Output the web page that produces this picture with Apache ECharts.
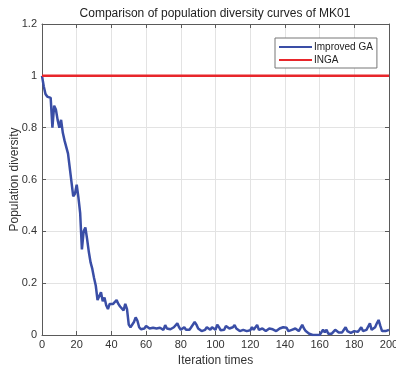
<!DOCTYPE html>
<html>
<head>
<meta charset="utf-8">
<script src="https://cdn.jsdelivr.net/npm/echarts@6/dist/echarts.min.js"></script>
<style>
  html, body { margin: 0; padding: 0; background: #fff; }
  #chart { width: 396px; height: 370px; }
</style>
</head>
<body>
<div id="chart"></div>
<script>
const titleText = 'Comparison of population diversity curves of MK01'
const seriesNames = ['Improved GA', 'INGA']
const xTicks = [0, 20, 40, 60, 80, 100, 120, 140, 160, 180, 200]
const yTicks = [0, 0.2, 0.4, 0.6, 0.8, 1, 1.2]

// population diversity per iteration (0..200)
const improvedGA = [
  1.0, 0.96, 0.93, 0.92, 0.915, 0.915, 0.80, 0.885, 0.87, 0.83,
  0.80, 0.83, 0.78, 0.75, 0.755, 0.70, 0.645, 0.64, 0.535, 0.545,
  0.58, 0.53, 0.47, 0.33, 0.40, 0.415, 0.37, 0.32, 0.28, 0.255,
  0.22, 0.19, 0.135, 0.14, 0.165, 0.13, 0.145, 0.115, 0.10, 0.12,
  0.115, 0.12, 0.125, 0.135, 0.12, 0.11, 0.105, 0.095, 0.12, 0.10,
  0.04, 0.03, 0.035, 0.05, 0.068, 0.055, 0.03, 0.022, 0.02, 0.025,
  0.035, 0.028, 0.025, 0.03, 0.028, 0.03, 0.025, 0.03, 0.028, 0.025,
  0.02, 0.038, 0.025, 0.018, 0.022, 0.02, 0.03, 0.025, 0.045, 0.03,
  0.02, 0.025, 0.03, 0.02, 0.015, 0.02, 0.03, 0.025, 0.05, 0.04,
  0.025, 0.02, 0.015, 0.013, 0.02, 0.03, 0.025, 0.02, 0.03, 0.035,
  0.02, 0.04, 0.03, 0.018, 0.025, 0.02, 0.035, 0.042, 0.025, 0.02,
  0.03, 0.038, 0.025, 0.02, 0.015, 0.01, 0.02, 0.025, 0.015, 0.02,
  0.018, 0.03, 0.02, 0.025, 0.039, 0.02, 0.018, 0.025, 0.02, 0.015,
  0.02, 0.025, 0.03, 0.022, 0.018, 0.015, 0.02, 0.025, 0.02, 0.03,
  0.033, 0.028, 0.015, 0.012, 0.02, 0.015, 0.025, 0.02, 0.015, 0.02,
  0.039, 0.025, 0.015, 0.01, 0.005, 0.0, 0.0, 0.0, 0.0, 0.0,
  0.0, 0.0, 0.02, 0.01, 0.02, 0.005, 0.0, 0.005, 0.01, 0.02,
  0.018, 0.01, 0.005, 0.01, 0.02, 0.03, 0.015, 0.01, 0.008, 0.01,
  0.015, 0.01, 0.012, 0.02, 0.03, 0.015, 0.01, 0.02, 0.015, 0.045,
  0.02, 0.015, 0.03, 0.045, 0.058, 0.035, 0.015, 0.01, 0.015, 0.02,
  0.02
]
const inga = improvedGA.map(function() { return 1 })

const chart = echarts.init(document.getElementById('chart'), null, { renderer: 'canvas' })

const font = 'Liberation Sans, Arial, Helvetica, sans-serif'
const boxColor = '#5a5a5a'
const textColor = '#333333'

chart.setOption({
  backgroundColor: '#ffffff',
  animation: false,
  title: {
    text: titleText,
    left: 210,
    textAlign: 'center',
    top: 3,
    textStyle: {
      fontFamily: font,
      fontSize: 12,
      fontWeight: 'normal',
      color: '#222222'
    }
  },
  legend: {
    orient: 'vertical',
    left: 275,
    top: 38,
    padding: [4, 4, 3, 4],
    itemGap: 3,
    itemWidth: 33,
    itemHeight: 2,
    icon: 'rect',
    backgroundColor: '#ffffff',
    borderColor: '#777777',
    borderWidth: 1,
    textStyle: {
      fontFamily: font,
      fontSize: 10,
      color: '#222222',
      padding: [0, 0, 0, -3]
    },
    data: seriesNames
  },
  grid: {
    left: 42,
    right: 7,
    top: 24,
    bottom: 35,
    outerBoundsMode: 'none'
  },
  xAxis: [{
    type: 'value',
    min: 0,
    max: 200,
    interval: 20,
    name: 'Iteration times',
    nameLocation: 'middle',
    nameGap: 20,
    nameMoveOverlap: false,
    nameTextStyle: { fontFamily: font, fontSize: 12, color: textColor },
    axisLine: { show: true, onZero: false, lineStyle: { color: boxColor, width: 1 } },
    axisTick: { show: true, inside: true, length: 4, lineStyle: { color: boxColor } },
    axisLabel: { fontFamily: font, fontSize: 11, color: textColor, margin: 4 },
    splitLine: { show: true, lineStyle: { color: '#e3e3e3', width: 1 } }
  }, {
    type: 'value',
    position: 'top',
    min: 0,
    max: 200,
    interval: 20,
    axisLine: { show: true, onZero: false, lineStyle: { color: boxColor, width: 1 } },
    axisTick: { show: true, inside: true, length: 4, lineStyle: { color: boxColor } },
    axisLabel: { show: false },
    splitLine: { show: false }
  }],
  yAxis: [{
    type: 'value',
    min: 0,
    max: 1.2,
    interval: 0.2,
    name: 'Population diversity',
    nameLocation: 'middle',
    nameGap: 21,
    nameMoveOverlap: false,
    nameTextStyle: { fontFamily: font, fontSize: 12, color: textColor },
    axisLine: { show: true, onZero: false, lineStyle: { color: boxColor, width: 1 } },
    axisTick: { show: true, inside: true, length: 4, lineStyle: { color: boxColor } },
    axisLabel: {
      fontFamily: font,
      fontSize: 11,
      color: textColor,
      margin: 5,
      formatter: function(v) { return String(Math.round(v * 10) / 10) }
    },
    splitLine: { show: true, lineStyle: { color: '#e3e3e3', width: 1 } }
  }, {
    type: 'value',
    position: 'right',
    min: 0,
    max: 1.2,
    interval: 0.2,
    axisLine: { show: true, onZero: false, lineStyle: { color: boxColor, width: 1 } },
    axisTick: { show: true, inside: true, length: 4, lineStyle: { color: boxColor } },
    axisLabel: { show: false },
    splitLine: { show: false }
  }],
  series: [{
    name: seriesNames[0],
    type: 'line',
    symbol: 'none',
    itemStyle: { color: '#3a4ea6' },
    lineStyle: { color: '#3a4ea6', width: 2.5 },
    data: improvedGA.map(function(v, i) { return [i, v] }),
    z: 3
  }, {
    name: seriesNames[1],
    type: 'line',
    symbol: 'none',
    itemStyle: { color: '#e8262b' },
    lineStyle: { color: '#e8262b', width: 2.5 },
    data: inga.map(function(v, i) { return [i, v] }),
    z: 4
  }]
})
</script>
</body>
</html>
